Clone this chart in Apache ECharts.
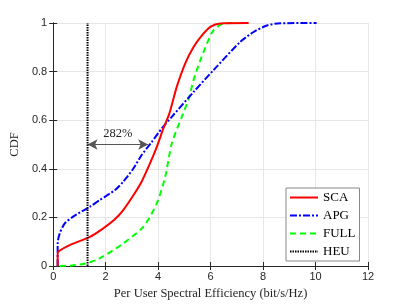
<!DOCTYPE html>
<html><head><meta charset="utf-8">
<script src="https://cdn.jsdelivr.net/npm/echarts@6/dist/echarts.min.js"></script>
<style>html,body{margin:0;padding:0;background:#fff}#c{width:407px;height:305px}</style>
</head><body><div id="c"></div>
<script>
const xTicks = [0, 2, 4, 6, 8, 10, 12];
const yTicks = [0, 0.2, 0.4, 0.6, 0.8, 1];
const scaX = [0.17, 0.17, 0.19, 0.63, 1.4, 1.91, 2.35, 2.67, 3.05, 3.37, 3.69, 3.95, 4.2, 4.42, 4.71, 5.03, 5.35, 5.67, 5.99, 6.37, 7.45];
const scaY = [0, 0.045, 0.059, 0.086, 0.12, 0.155, 0.192, 0.23, 0.29, 0.347, 0.422, 0.49, 0.566, 0.625, 0.737, 0.833, 0.901, 0.949, 0.984, 0.998, 1.0];
const apgX = [0.17, 0.17, 0.25, 0.44, 0.76, 1.4, 1.78, 2.35, 2.67, 3.05, 3.37, 3.76, 4.14, 4.52, 5.35, 6.11, 7.13, 7.64, 8.15, 8.66, 10.04];
const apgY = [0, 0.093, 0.134, 0.175, 0.203, 0.244, 0.272, 0.312, 0.347, 0.4, 0.456, 0.511, 0.566, 0.614, 0.716, 0.806, 0.922, 0.963, 0.99, 0.999, 1.0];
const fullX = [0.25, 0.7, 1.27, 1.78, 2.67, 3.44, 3.95, 4.27, 4.52, 4.9, 5.16, 5.35, 5.61, 5.86, 6.11, 6.5, 7.0];
const fullY = [0, 0.002, 0.011, 0.032, 0.093, 0.162, 0.258, 0.367, 0.504, 0.614, 0.685, 0.765, 0.847, 0.915, 0.97, 0.998, 1.0];
const heuX = [1.31, 1.31];
const heuY = [0, 1];
const arrowFrom = [1.31, 0.5];
const arrowTo = [3.62, 0.5];
const arrowLabel = '282%';
const names = ['SCA', 'APG', 'FULL', 'HEU'];

const zip = (a, b) => a.map((v, i) => [v, b[i]]);
const serif = 'Liberation Serif';
const sans = 'Liberation Sans';

const chart = echarts.init(document.getElementById('c'));
chart.setOption({
  animation: false,
  backgroundColor: '#fff',
  grid: { left: 53, right: 39, top: 23, bottom: 39 },
  xAxis: [{
    type: 'value', min: 0, max: 12, interval: 2,
    name: 'Per User Spectral Efficiency (bit/s/Hz)', nameLocation: 'middle', nameGap: 21,
    nameTextStyle: { fontFamily: serif, fontSize: 12.5, color: '#262626' },
    axisLine: { show: true, lineStyle: { color: '#262626', width: 1 } },
    axisTick: { show: true, inside: true, length: 4, lineStyle: { color: '#262626' } },
    axisLabel: { fontFamily: sans, fontSize: 11, color: '#262626', margin: 5 },
    splitLine: { show: true, lineStyle: { color: '#e6e6e6', width: 1 } }
  }, {
    type: 'value', min: 0, max: 12, interval: 2, position: 'top',
    axisLine: { show: true, lineStyle: { color: '#262626', width: 1 } },
    axisTick: { show: true, inside: true, length: 4, lineStyle: { color: '#262626' } },
    axisLabel: { show: false }, splitLine: { show: false }
  }],
  yAxis: [{
    type: 'value', min: 0, max: 1, interval: 0.2,
    name: 'CDF', nameLocation: 'middle', nameGap: 32,
    nameTextStyle: { fontFamily: serif, fontSize: 12.5, color: '#262626' },
    axisLine: { show: true, lineStyle: { color: '#262626', width: 1 } },
    axisTick: { show: true, inside: true, length: 4, lineStyle: { color: '#262626' } },
    axisLabel: { fontFamily: sans, fontSize: 11, color: '#262626', margin: 6,
      formatter: v => (Math.round(v * 10) / 10).toString() },
    splitLine: { show: true, lineStyle: { color: '#e6e6e6', width: 1 } }
  }, {
    type: 'value', min: 0, max: 1, interval: 0.2, position: 'right',
    axisLine: { show: true, lineStyle: { color: '#262626', width: 1 } },
    axisTick: { show: true, inside: true, length: 4, lineStyle: { color: '#262626' } },
    axisLabel: { show: false }, splitLine: { show: false }
  }],
  legend: {
    data: names, orient: 'vertical', left: 286, top: 188,
    itemWidth: 28, itemHeight: 12, itemGap: 5, padding: [3, 4, 3, 3],
    backgroundColor: '#fff', borderColor: '#888', borderWidth: 1, borderRadius: 0,
    itemStyle: { opacity: 0 },
    textStyle: { fontFamily: serif, fontSize: 13, color: '#000' }
  },
  series: [
    { name: 'SCA', type: 'line', data: zip(scaX, scaY), symbol: 'none', smooth: 0.25,
      lineStyle: { color: '#ff0000', width: 2 }, itemStyle: { color: '#ff0000' }, z: 4 },
    { name: 'APG', type: 'line', data: zip(apgX, apgY), symbol: 'none', smooth: 0.25,
      lineStyle: { color: '#0000ff', width: 2, type: [7, 2, 2, 2] }, itemStyle: { color: '#0000ff' }, z: 3 },
    { name: 'FULL', type: 'line', data: zip(fullX, fullY), symbol: 'none', smooth: 0.25,
      lineStyle: { color: '#00ff00', width: 2, type: [6, 4] }, itemStyle: { color: '#00ff00' }, z: 2 },
    { name: 'HEU', type: 'line', data: zip(heuX, heuY), symbol: 'none',
      lineStyle: { color: '#000', width: 2, type: [1.5, 1] }, itemStyle: { color: '#000' }, z: 5,
      markLine: {
        silent: true, symbol: ['arrow', 'arrow'], symbolSize: [8, 10],
        lineStyle: { color: '#555', width: 1, type: 'solid' },
        label: { show: true, position: 'middle', formatter: arrowLabel, distance: 4,
          fontFamily: serif, fontSize: 12.5, color: '#262626' },
        data: [[{ coord: arrowFrom }, { coord: arrowTo }]]
      } }
  ]
});
</script></body></html>
